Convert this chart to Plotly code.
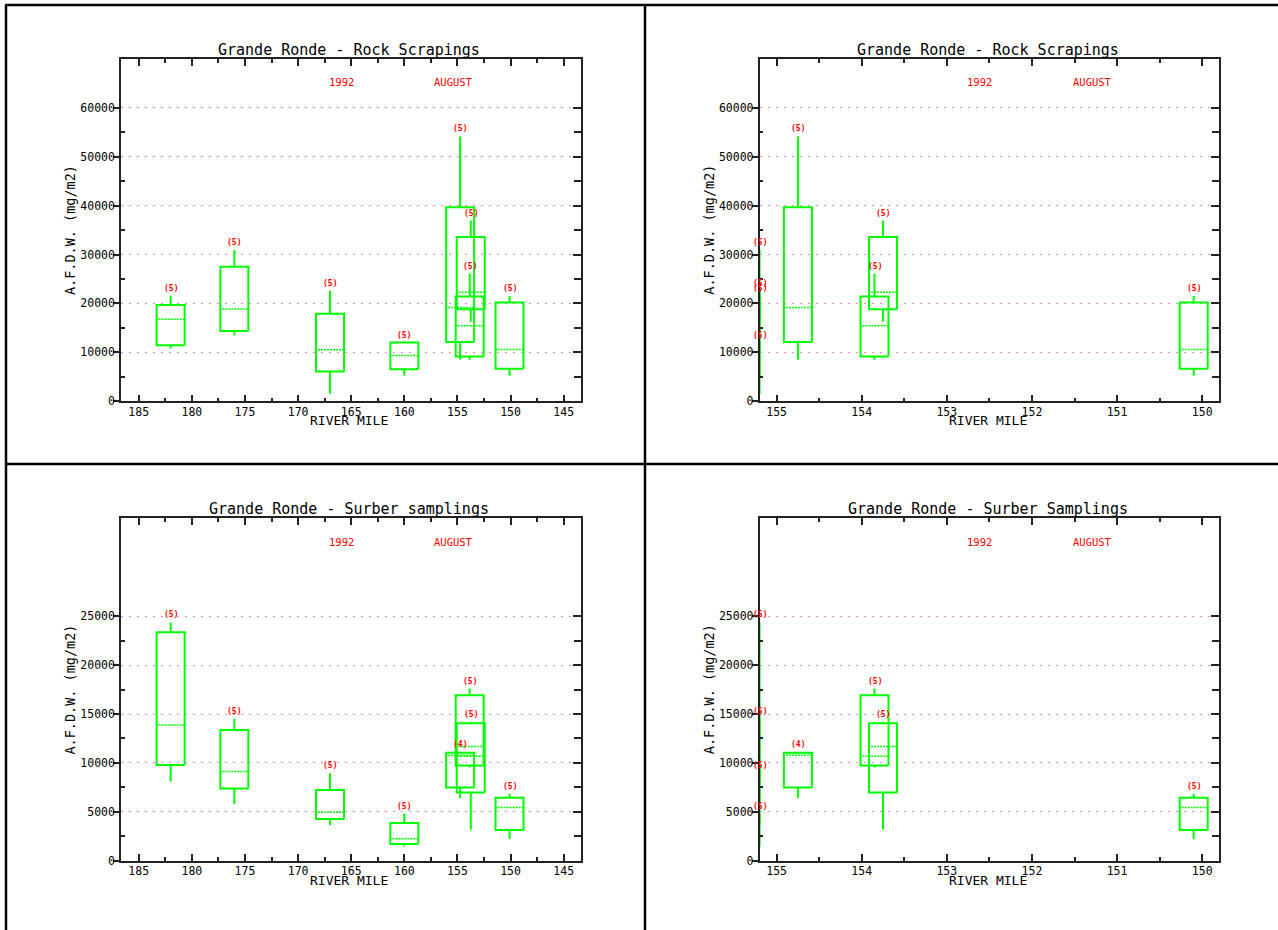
import plotly.graph_objects as go

# ---------------- data ----------------
rock_mile = [182.0, 176.0, 167.0, 160.0, 154.75, 153.85, 153.75, 150.1]
rock_low = [10790, 13480, 1550, 5190, 8500, 8500, 16230, 5190]
rock_q1 = [11460, 14360, 6070, 6540, 12100, 9150, 18830, 6650]
rock_median = [16790, 18880, 10520, 9370, 19160, 15450, 22300, 10560]
rock_q3 = [19700, 27500, 17870, 12000, 39650, 21400, 33600, 20210]
rock_high = [21570, 30940, 22580, 12000, 54130, 26110, 36950, 21520]
rock_n = [5, 5, 5, 5, 5, 5, 5, 5]

surber_mile = [182.0, 176.0, 167.0, 160.0, 154.75, 153.85, 153.75, 150.1]
surber_low = [8140, 5780, 3650, 1450, 6390, 9530, 3180, 2230]
surber_q1 = [9800, 7400, 4260, 1720, 7500, 9730, 6990, 3140]
surber_median = [13890, 9120, 4970, 2260, 10780, 10680, 11690, 5440]
surber_q3 = [23350, 13380, 7230, 3850, 11050, 16930, 14050, 6450]
surber_high = [24360, 14530, 8950, 4830, 11100, 17600, 14220, 6860]
surber_n = [5, 5, 5, 5, 4, 5, 5, 5]

wide_mile_ticks = [185, 180, 175, 170, 165, 160, 155, 150, 145]
zoom_mile_ticks = [155, 154, 153, 152, 151, 150]
rock_value_ticks = [0, 10000, 20000, 30000, 40000, 50000, 60000]
surber_value_ticks = [0, 5000, 10000, 15000, 20000, 25000]

titles = ["Grande Ronde - Rock Scrapings", "Grande Ronde - Rock Scrapings",
          "Grande Ronde - Surber samplings", "Grande Ronde - Surber Samplings"]
year_text = "1992"
month_text = "AUGUST"
x_title = "RIVER MILE"
y_title = "A.F.D.W. (mg/m2)"

# ---------------- layout geometry ----------------
W, H = 1278, 930
GREEN = "#00ff00"
RED = "#ff0000"
GRID = "#ec8ccc"
AXC = "#222222"
MONO = "DejaVu Sans Mono"

def px_x(p):
    return p / W

def px_y(p):
    return 1 - p / H

left_dom = [px_x(121), px_x(580.5)]
right_dom = [px_x(759.6), px_x(1219.2)]
top_dom = [px_y(404.3), px_y(59.3)]
bot_dom = [px_y(867.3), px_y(522.3)]
plot_w_px = 459.5

rock = dict(mile=rock_mile, low=rock_low, q1=rock_q1, med=rock_median,
            q3=rock_q3, high=rock_high, n=rock_n)
surber = dict(mile=surber_mile, low=surber_low, q1=surber_q1, med=surber_median,
              q3=surber_q3, high=surber_high, n=surber_n)

panels = [
    dict(ax="", ov="5", xd=left_dom, yd=top_dom, xr=[186.67, 143.42], yr=[0, 70000],
         xt=wide_mile_ticks, xm=2.5, yt=rock_value_ticks, ym=5000, d=rock, title=titles[0]),
    dict(ax="2", ov="6", xd=right_dom, yd=top_dom, xr=[155.2, 149.8], yr=[0, 70000],
         xt=zoom_mile_ticks, xm=0.5, yt=rock_value_ticks, ym=5000, d=rock, title=titles[1]),
    dict(ax="3", ov="7", xd=left_dom, yd=bot_dom, xr=[186.67, 143.42], yr=[0, 35000],
         xt=wide_mile_ticks, xm=2.5, yt=surber_value_ticks, ym=2500, d=surber, title=titles[2]),
    dict(ax="4", ov="8", xd=right_dom, yd=bot_dom, xr=[155.2, 149.8], yr=[0, 35000],
         xt=zoom_mile_ticks, xm=0.5, yt=surber_value_ticks, ym=2500, d=surber, title=titles[3]),
]

fig = go.Figure()
annotations = []
tickfont = dict(family=MONO, size=11.5, color="black")

for p in panels:
    a = p["ax"]
    xref, yref = "x" + a, "y" + a
    lo_x, hi_x = min(p["xr"]), max(p["xr"])
    hw = 14 * (hi_x - lo_x) / plot_w_px
    clamp = lambda v: min(max(v, lo_x), hi_x)
    d = p["d"]
    xs, ys, mx, my = [], [], [], []
    for i in range(len(d["mile"])):
        xc = clamp(d["mile"][i])
        xl = clamp(d["mile"][i] - hw)
        xr = clamp(d["mile"][i] + hw)
        xs += [xl, xr, xr, xl, xl, None, xc, xc, None, xc, xc, None]
        ys += [d["q1"][i], d["q1"][i], d["q3"][i], d["q3"][i], d["q1"][i], None,
               d["q3"][i], d["high"][i], None, d["low"][i], d["q1"][i], None]
        mx += [xl, xr, None]
        my += [d["med"][i], d["med"][i], None]
        annotations.append(dict(x=xc, y=d["high"][i], xref=xref, yref=yref,
                                text="<b>(%d)</b>" % d["n"][i], showarrow=False,
                                yshift=7.5, yanchor="middle",
                                font=dict(family=MONO, size=8, color=RED)))
    fig.add_trace(go.Scatter(x=xs, y=ys, mode="lines", xaxis=xref, yaxis=yref,
                             line=dict(color=GREEN, width=2), hoverinfo="skip",
                             showlegend=False))
    fig.add_trace(go.Scatter(x=mx, y=my, mode="lines", xaxis=xref, yaxis=yref,
                             line=dict(color=GREEN, width=1.5, dash="2px,1px"),
                             hoverinfo="skip", showlegend=False))

    ytop = max(p["yt"])
    yminor = [v for v in range(0, ytop + 1, p["ym"]) if v not in p["yt"]]

    fig.layout["xaxis" + a] = dict(
        domain=p["xd"], anchor=yref, range=p["xr"], tickmode="array",
        tickvals=p["xt"], ticktext=[str(v) for v in p["xt"]],
        ticks="inside", ticklen=7, tickwidth=1.5, tickcolor=AXC,
        minor=dict(dtick=p["xm"], tick0=p["xt"][0], ticks="inside", ticklen=4,
                   tickwidth=1.5, tickcolor=AXC, showgrid=False),
        showline=True, linecolor=AXC, linewidth=1.5, mirror="ticks",
        showgrid=False, zeroline=False, tickfont=tickfont, ticklabelstandoff=-1,
        fixedrange=True)
    fig.layout["yaxis" + a] = dict(
        domain=p["yd"], anchor=xref, range=p["yr"], tickmode="array",
        tickvals=p["yt"], ticktext=[str(v) for v in p["yt"]],
        ticks="outside", ticklen=6, tickwidth=1.5, tickcolor=AXC,
        minor=dict(tickmode="array", tickvals=yminor, ticks="inside", ticklen=4,
                   tickwidth=1.5, tickcolor=AXC, showgrid=False),
        showline=True, linecolor=AXC, linewidth=1.5, mirror=False,
        showgrid=True, gridcolor=GRID, gridwidth=1.2, griddash="2px,6px",
        zeroline=False, tickfont=tickfont, ticklabelstandoff=-4, fixedrange=True)
    # right-hand frame axis with inward ticks
    fig.layout["yaxis" + p["ov"]] = dict(
        overlaying=yref, anchor=xref, side="right", range=p["yr"],
        tickmode="array", tickvals=p["yt"], showticklabels=False,
        ticks="inside", ticklen=8, tickwidth=1.5, tickcolor=AXC,
        minor=dict(tickmode="array", tickvals=yminor, ticks="inside", ticklen=7,
                   tickwidth=1.5, tickcolor=AXC, showgrid=False),
        showline=True, linecolor=AXC, linewidth=1.5, showgrid=False,
        zeroline=False, fixedrange=True)
    fig.add_trace(go.Scatter(x=[None], y=[None], xaxis=xref, yaxis="y" + p["ov"],
                             showlegend=False, hoverinfo="skip"))

    dx = xref + " domain"
    dy = yref + " domain"
    annotations += [
        dict(x=0.497, y=1, xref=dx, yref=dy, text=p["title"], showarrow=False,
             yshift=9, yanchor="middle", xanchor="center",
             font=dict(family=MONO, size=15, color="black")),
        dict(x=0.479, y=0.931, xref=dx, yref=dy, text=year_text, showarrow=False,
             xanchor="center", yanchor="middle",
             font=dict(family=MONO, size=10.5, color=RED)),
        dict(x=0.7235, y=0.931, xref=dx, yref=dy, text=month_text, showarrow=False,
             xanchor="center", yanchor="middle",
             font=dict(family=MONO, size=10.5, color=RED)),
        dict(x=0.497, y=0, xref=dx, yref=dy, text=x_title, showarrow=False,
             yshift=-19.5, yanchor="middle", xanchor="center",
             font=dict(family=MONO, size=13, color="black")),
        dict(x=0, y=0.5, xref=dx, yref=dy, text=y_title, showarrow=False,
             xshift=-51, textangle=-90, xanchor="center", yanchor="middle",
             font=dict(family=MONO, size=13.5, color="black")),
    ]

frame = dict(type="line", xref="paper", yref="paper", line=dict(color="black", width=2.5))
shapes = [
    dict(frame, x0=px_x(5), x1=1.01, y0=px_y(5), y1=px_y(5)),
    dict(frame, x0=px_x(6), x1=px_x(6), y0=px_y(5), y1=-0.02),
    dict(frame, x0=px_x(645), x1=px_x(645), y0=px_y(5), y1=-0.02),
    dict(frame, x0=px_x(5), x1=1.01, y0=px_y(467.5), y1=px_y(467.5)),
]

fig.update_layout(width=W, height=H, autosize=False,
                  margin=dict(l=0, r=0, t=0, b=0, pad=0),
                  paper_bgcolor="white", plot_bgcolor="white",
                  showlegend=False, annotations=annotations, shapes=shapes)

fig.write_html("out.html", config=dict(displayModeBar=False),
               post_script="document.body.style.margin='0px';document.body.style.overflow='hidden';")
